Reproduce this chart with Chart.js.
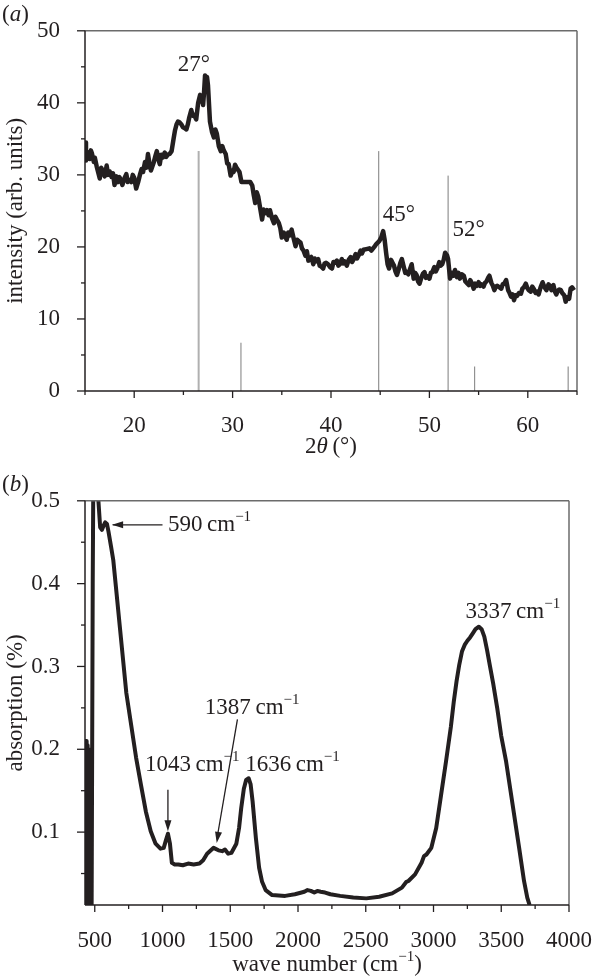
<!DOCTYPE html>
<html>
<head>
<meta charset="utf-8">
<script src="https://cdn.jsdelivr.net/npm/chart.js@4.4.0/dist/chart.umd.min.js"></script>
<style>
  html, body { margin: 0; padding: 0; background: #fff; }
  #wrap { position: relative; width: 606px; height: 980px; }
  canvas { position: absolute; left: 0; }
</style>
</head>
<body>
<div id="wrap">
  <canvas id="xrd" width="606" height="470" style="top:0"></canvas>
  <canvas id="ftir" width="606" height="510" style="top:470px"></canvas>
</div>
<script>
// (a) XRD pattern
const angleA = [15.0,15.1,15.2,15.3,15.4,15.5,15.6,15.7,15.9,16.0,16.2,16.35,16.5,16.65,16.8,17.0,17.1,17.2,17.35,17.5,17.7,17.85,18.0,18.2,18.35,18.5,18.65,18.8,19.0,19.2,19.35,19.5,19.7,19.85,20.0,20.2,20.4,20.6,20.75,20.9,21.1,21.25,21.4,21.55,21.7,21.85,22.0,22.15,22.3,22.45,22.6,22.75,22.9,23.1,23.25,23.4,23.6,23.8,24.0,24.15,24.3,24.45,24.6,24.8,24.95,25.1,25.3,25.45,25.6,25.8,25.95,26.1,26.3,26.5,26.7,26.8,26.9,27.0,27.1,27.2,27.3,27.4,27.5,27.7,27.9,28.1,28.25,28.4,28.6,28.8,28.95,29.1,29.3,29.45,29.6,29.8,30.0,30.1,30.25,30.4,30.7,30.9,31.8,32.0,32.15,32.3,32.45,32.6,32.8,33.0,33.15,33.3,33.5,33.65,33.8,34.0,34.2,34.35,34.5,34.7,34.85,35.0,35.2,35.35,35.5,35.65,35.8,36.0,36.2,36.4,36.55,36.7,36.9,37.05,37.2,37.4,37.55,37.7,37.85,38.0,38.2,38.35,38.5,38.7,38.85,39.0,39.2,39.35,39.5,39.7,39.9,40.1,40.25,40.4,40.6,40.75,40.9,41.1,41.25,41.4,41.6,41.8,42.0,42.15,42.3,42.5,42.65,42.8,43.0,43.15,43.3,43.6,43.9,44.1,44.4,44.6,44.9,45.1,45.3,45.45,45.6,45.75,45.9,46.1,46.25,46.4,46.55,46.7,46.9,47.05,47.2,47.4,47.55,47.7,47.85,48.0,48.2,48.4,48.55,48.7,48.85,49.0,49.2,49.35,49.5,49.65,49.8,50.0,50.15,50.3,50.5,50.65,50.8,51.0,51.15,51.3,51.45,51.6,51.8,51.9,52.1,52.3,52.45,52.6,52.8,52.95,53.1,53.3,53.5,53.65,53.8,54.0,54.15,54.3,54.5,54.65,54.8,55.0,55.15,55.3,55.5,55.65,55.8,56.0,56.1,56.3,56.45,56.6,56.75,56.9,57.1,57.3,57.45,57.6,57.8,58.0,58.15,58.3,58.45,58.6,58.75,58.9,59.1,59.3,59.45,59.6,59.8,59.95,60.1,60.3,60.45,60.6,60.8,60.95,61.1,61.3,61.5,61.7,61.9,62.1,62.25,62.4,62.6,62.75,62.9,63.05,63.2,63.35,63.5,63.7,63.85,64.0,64.2,64.35,64.5,64.7,64.85,65.0];
const intensityA = [34.5,32.0,33.2,32.6,33.0,32.2,33.4,33.0,31.8,32.4,31.1,30.3,29.5,31.0,30.6,29.8,30.5,31.3,30.0,30.5,29.7,30.2,28.6,29.8,29.0,29.7,29.2,28.6,29.5,30.1,29.0,29.3,29.0,30.0,29.6,28.1,29.0,30.1,30.8,30.4,31.8,31.0,32.9,31.6,30.6,31.2,31.8,32.6,33.3,32.2,31.5,32.8,32.4,33.1,32.5,32.8,32.9,33.3,35.0,36.2,37.0,37.4,37.3,37.0,36.6,36.5,36.3,37.0,38.0,39.0,38.2,38.3,37.7,40.0,41.1,40.2,40.6,39.7,41.5,43.8,43.0,43.6,42.4,37.4,36.0,35.2,36.3,35.7,34.0,33.3,34.0,33.4,32.9,31.6,31.5,29.9,30.6,30.4,31.4,31.0,30.4,29.0,29.0,28.5,27.2,26.1,27.6,27.0,25.4,23.8,25.2,24.7,25.1,24.4,25.1,24.0,23.3,24.2,23.8,23.3,22.6,21.3,22.0,21.4,21.0,22.0,21.6,22.4,21.2,20.1,21.0,20.8,20.6,19.8,19.5,18.8,19.4,18.1,18.4,18.6,17.6,18.4,18.0,18.3,17.4,17.3,17.0,17.7,17.8,17.6,17.2,17.0,17.9,17.8,18.1,17.4,17.6,18.3,17.7,18.0,17.4,18.2,18.6,17.9,18.3,19.0,18.4,18.8,19.5,19.1,19.6,19.7,19.8,19.5,20.0,20.4,20.8,21.3,22.2,21.0,19.2,17.6,17.0,18.2,17.8,17.4,16.6,16.1,17.0,17.8,18.3,17.2,16.4,16.5,16.2,16.8,17.6,15.6,16.4,16.1,15.2,14.9,15.8,16.3,16.5,15.7,15.9,15.6,16.4,16.5,17.2,16.6,17.0,17.9,17.4,17.6,18.2,19.2,18.8,18.3,15.6,16.4,16.0,16.8,15.8,16.4,15.6,16.2,16.0,15.2,15.0,14.7,15.4,15.0,14.2,14.9,14.6,15.1,14.6,14.8,14.5,15.0,15.2,15.8,16.0,15.0,14.6,14.0,14.5,14.6,14.4,14.2,14.8,14.9,15.4,14.0,13.6,13.1,13.4,12.6,13.3,13.2,13.6,13.5,14.2,14.4,14.9,14.3,14.0,13.8,14.5,14.2,13.6,13.8,13.4,14.4,15.1,14.4,14.0,14.8,14.6,14.0,14.7,13.8,13.4,13.9,14.1,14.0,13.6,13.3,12.4,13.0,12.8,14.2,14.4,14.0];
// reference stick pattern
const stickPos = [26.55, 30.85, 44.85, 51.9, 54.6, 64.1];
const stickHeight = [33.3, 6.7, 33.3, 29.9, 3.4, 3.4];
const xTicksA = [20, 30, 40, 50, 60];
const xMinorA = [15, 25, 35, 45, 55, 65];
const yTicksA = [0, 10, 20, 30, 40, 50];
const yMinorA = [5, 15, 25, 35, 45];

// (b) FTIR spectrum
const waveB = [428,431,434,437,440,443,446,449,452,455,458,461,464,467,470,473,477,485,492,505,518,527,540,553,565,577,590,601,620,637,661,685,709,733,769,805,841,877,913,949,985,1009,1025,1040,1055,1069,1090,1117,1150,1189,1230,1273,1300,1329,1377,1413,1440,1461,1485,1509,1545,1565,1581,1600,1617,1636,1650,1665,1689,1713,1735,1761,1809,1905,1977,2047,2070,2095,2120,2143,2167,2200,2239,2311,2408,2504,2599,2695,2767,2800,2815,2864,2912,2930,2948,2984,3020,3056,3092,3128,3150,3170,3190,3210,3230,3250,3270,3290,3310,3335,3355,3375,3395,3415,3440,3470,3500,3536,3584,3632,3668,3692,3709];
const absorbB = [0.012,0.21,0.012,0.21,0.012,0.205,0.012,0.2,0.012,0.2,0.012,0.19,0.012,0.18,0.012,0.15,0.012,0.4,0.6,0.62,0.58,0.5,0.468,0.465,0.47,0.474,0.472,0.463,0.445,0.428,0.388,0.348,0.308,0.268,0.229,0.19,0.157,0.125,0.101,0.086,0.080,0.081,0.090,0.098,0.086,0.063,0.061,0.061,0.060,0.062,0.061,0.062,0.066,0.074,0.081,0.078,0.077,0.079,0.074,0.075,0.086,0.105,0.129,0.152,0.163,0.165,0.158,0.137,0.093,0.057,0.040,0.030,0.024,0.023,0.025,0.028,0.030,0.029,0.027,0.029,0.028,0.027,0.025,0.023,0.021,0.020,0.022,0.026,0.033,0.040,0.041,0.049,0.063,0.071,0.073,0.081,0.105,0.145,0.185,0.227,0.258,0.282,0.302,0.318,0.326,0.331,0.335,0.340,0.345,0.348,0.345,0.336,0.320,0.302,0.280,0.250,0.216,0.185,0.133,0.081,0.041,0.021,0.012];
const xTicksB = [500, 1000, 1500, 2000, 2500, 3000, 3500, 4000];
const xMinorB = [750, 1250, 1750, 2250, 2750, 3250, 3750];
const yTicksB = [0.1, 0.2, 0.3, 0.4, 0.5];
const yMinorB = [0.05, 0.15, 0.25, 0.35, 0.45];

const FONT = '"Liberation Serif", "Times New Roman", serif';
const INK = '#231f20';
const FS = 23;

function txt(ctx, s, x, y, opts = {}) {
  ctx.font = (opts.italic ? 'italic ' : '') + (opts.size || FS) + 'px ' + FONT;
  ctx.fillStyle = INK;
  ctx.textBaseline = 'middle';
  ctx.textAlign = 'left';
  ctx.fillText(s, x, y);
  return ctx.measureText(s).width;
}

// draws runs [{t, italic, sup}] starting at x (or centred)
function runs(ctx, parts, x, y, center) {
  let w = 0;
  parts.forEach(p => {
    ctx.font = (p.italic ? 'italic ' : '') + (p.sup ? 15 : FS) + 'px ' + FONT;
    w += ctx.measureText(p.t).width;
  });
  let cx = center ? x - w / 2 : x;
  parts.forEach(p => {
    cx += txt(ctx, p.t, cx, p.sup ? y - 8 : y, { italic: p.italic, size: p.sup ? 15 : FS });
  });
}

function cm(num) {
  return [{ t: num + '\u2009cm' }, { t: '\u22121', sup: true }];
}

function line(ctx, x1, y1, x2, y2, color, w) {
  ctx.beginPath();
  ctx.strokeStyle = color;
  ctx.lineWidth = w;
  ctx.moveTo(x1, y1);
  ctx.lineTo(x2, y2);
  ctx.stroke();
}

function arrowHead(ctx, x1, y1, x2, y2) {
  const a = Math.atan2(y2 - y1, x2 - x1);
  const L = 11, H = 3.5;
  ctx.beginPath();
  ctx.fillStyle = INK;
  ctx.moveTo(x2, y2);
  ctx.lineTo(x2 - L * Math.cos(a) + H * Math.sin(a), y2 - L * Math.sin(a) - H * Math.cos(a));
  ctx.lineTo(x2 - L * Math.cos(a) - H * Math.sin(a), y2 - L * Math.sin(a) + H * Math.cos(a));
  ctx.closePath();
  ctx.fill();
}

function frameAndTicks(chart, xMaj, xMin, yMaj, yMin) {
  const ctx = chart.ctx, a = chart.chartArea;
  const sx = chart.scales.x, sy = chart.scales.y;
  ctx.save();
  line(ctx, a.left, a.top, a.right, a.top, '#6b6b6b', 1.5);
  line(ctx, a.right, a.top, a.right, a.bottom, '#6b6b6b', 1.5);
  line(ctx, a.left, a.top, a.left, a.bottom, INK, 1.5);
  line(ctx, a.left, a.bottom, a.right, a.bottom, INK, 1.5);
  xMaj.forEach(v => { const p = sx.getPixelForValue(v); line(ctx, p, a.bottom, p, a.bottom + 7, INK, 1.3); });
  xMin.forEach(v => { const p = sx.getPixelForValue(v); line(ctx, p, a.bottom, p, a.bottom + 4, INK, 1.3); });
  yMaj.forEach(v => { const p = sy.getPixelForValue(v); line(ctx, a.left - 8, p, a.left, p, INK, 1.3); });
  yMin.forEach(v => { const p = sy.getPixelForValue(v); line(ctx, a.left - 4, p, a.left, p, INK, 1.3); });
  ctx.restore();
}

const xrdDecor = {
  id: 'xrdDecor',
  afterDraw(chart) {
    const ctx = chart.ctx, a = chart.chartArea;
    const sx = chart.scales.x, sy = chart.scales.y;
    frameAndTicks(chart, xTicksA, xMinorA, yTicksA, yMinorA);
    ctx.save();
    runs(ctx, [{ t: '(' }, { t: 'a', italic: true }, { t: ')' }], 2, 15, false);
    runs(ctx, [{ t: '27°' }], sx.getPixelForValue(26.05), sy.getPixelForValue(45.2), true);
    runs(ctx, [{ t: '45°' }], sx.getPixelForValue(45.25), sy.getPixelForValue(24.4), false);
    runs(ctx, [{ t: '52°' }], sx.getPixelForValue(52.35), sy.getPixelForValue(22.4), false);
    runs(ctx, [{ t: '2' }, { t: 'θ', italic: true }, { t: '\u2009(°)' }], (a.left + a.right) / 2, 447, true);
    ctx.translate(16, (a.top + a.bottom) / 2);
    ctx.rotate(-Math.PI / 2);
    runs(ctx, [{ t: 'intensity (arb. units)' }], 0, 0, true);
    ctx.restore();
  }
};

const ftirDecor = {
  id: 'ftirDecor',
  afterDraw(chart) {
    const ctx = chart.ctx, a = chart.chartArea;
    const sx = chart.scales.x, sy = chart.scales.y;
    const X = v => sx.getPixelForValue(v), Y = v => sy.getPixelForValue(v);
    frameAndTicks(chart, xTicksB, xMinorB, yTicksB, yMinorB);
    ctx.save();
    runs(ctx, [{ t: '(' }, { t: 'b', italic: true }, { t: ')' }], 2, 15, false);
    // 590 arrow
    line(ctx, X(1000), Y(0.471), X(632), Y(0.471), INK, 1.3);
    arrowHead(ctx, X(1000), Y(0.471), X(628), Y(0.471));
    runs(ctx, cm('590'), X(1040), Y(0.471), false);
    // 1043
    runs(ctx, cm('1043'), X(870), Y(0.181), false);
    line(ctx, X(1040), Y(0.151), X(1040), Y(0.108), INK, 1.3);
    arrowHead(ctx, X(1040), Y(0.151), X(1040), Y(0.101));
    // 1387
    runs(ctx, cm('1387'), X(1662), Y(0.25), true);
    line(ctx, X(1553), Y(0.236), X(1405), Y(0.095), INK, 1.3);
    arrowHead(ctx, X(1553), Y(0.236), X(1400), Y(0.087));
    // 1636, 3337
    runs(ctx, cm('1636'), X(1610), Y(0.181), false);
    runs(ctx, cm('3337'), X(3236), Y(0.366), false);
    runs(ctx, [{ t: 'wave number (cm' }, { t: '\u22121', sup: true }, { t: ')' }], (a.left + a.right) / 2, 495, true);
    ctx.translate(16, (a.top + a.bottom) / 2);
    ctx.rotate(-Math.PI / 2);
    runs(ctx, [{ t: 'absorption (%)' }], 0, 0, true);
    ctx.restore();
  }
};

const tickFont = { family: FONT, size: FS };

new Chart(document.getElementById('xrd'), {
  type: 'scatter',
  data: {
    datasets: [
      {
        data: angleA.map((v, i) => ({ x: v, y: intensityA[i] })),
        showLine: true, borderColor: INK, borderWidth: 4.5, borderJoinStyle: 'round',
        pointRadius: 0, order: 0, clip: 0
      },
      ...stickPos.map((p, i) => ({
        data: [{ x: p, y: 0 }, { x: p, y: stickHeight[i] }],
        showLine: true, borderColor: i === 0 ? '#b0b0b0' : '#7d7d7d', borderWidth: i === 0 ? 2 : 1,
        pointRadius: 0, order: 1
      }))
    ]
  },
  options: {
    responsive: false,
    animation: false,
    layout: { padding: { top: 25, right: 29, left: 0, bottom: 0 } },
    plugins: { legend: { display: false }, tooltip: { enabled: false } },
    scales: {
      x: {
        type: 'linear', min: 15, max: 65,
        grid: { display: false }, border: { display: false },
        afterBuildTicks: s => { s.ticks = xTicksA.map(v => ({ value: v })); },
        afterFit: s => { s.height = 79; },
        ticks: { autoSkip: false, maxRotation: 0, padding: 13, color: INK, font: tickFont, callback: v => String(v) }
      },
      y: {
        min: 0, max: 50,
        grid: { display: false }, border: { display: false },
        afterBuildTicks: s => { s.ticks = yTicksA.map(v => ({ value: v })); },
        afterFit: s => { s.width = 85; },
        ticks: { autoSkip: false, padding: 17, color: INK, font: tickFont, callback: v => String(v) }
      }
    }
  },
  plugins: [xrdDecor]
});

new Chart(document.getElementById('ftir'), {
  type: 'scatter',
  data: {
    datasets: [{
      data: waveB.map((v, i) => ({ x: v, y: absorbB[i] })),
      showLine: true, borderColor: INK, borderWidth: 4, borderJoinStyle: 'round',
      pointRadius: 0, clip: 0
    }]
  },
  options: {
    responsive: false,
    animation: false,
    layout: { padding: { top: 26, right: 25, left: 0, bottom: 0 } },
    plugins: { legend: { display: false }, tooltip: { enabled: false } },
    scales: {
      x: {
        type: 'linear', min: 428, max: 4000,
        grid: { display: false }, border: { display: false },
        afterBuildTicks: s => { s.ticks = xTicksB.map(v => ({ value: v })); },
        afterFit: s => { s.height = 75; },
        ticks: { autoSkip: false, maxRotation: 0, padding: 14, color: INK, font: tickFont, callback: v => String(v) }
      },
      y: {
        min: 0.012, max: 0.5,
        grid: { display: false }, border: { display: false },
        afterBuildTicks: s => { s.ticks = yTicksB.map(v => ({ value: v })); },
        afterFit: s => { s.width = 85; },
        ticks: { autoSkip: false, padding: 17, color: INK, font: tickFont, callback: v => v.toFixed(1) }
      }
    }
  },
  plugins: [ftirDecor]
});
</script>
</body>
</html>
